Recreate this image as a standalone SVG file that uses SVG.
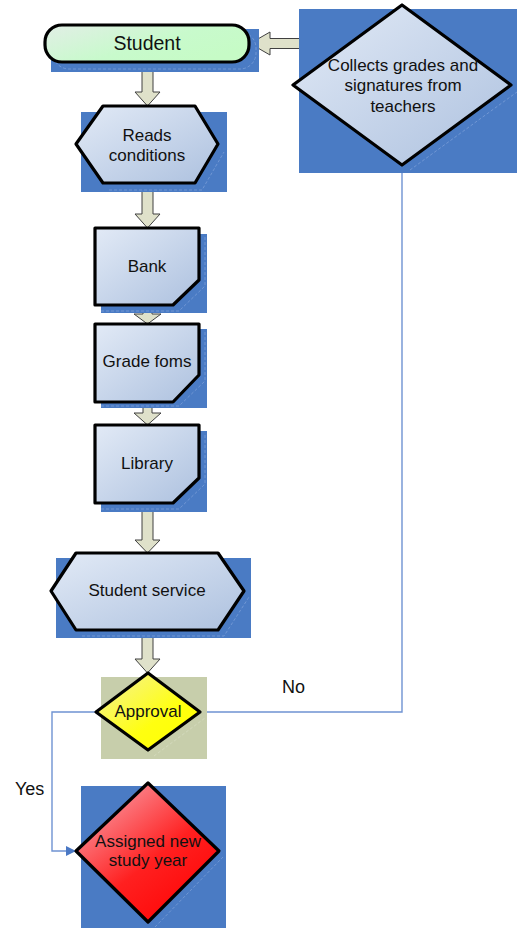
<svg xmlns="http://www.w3.org/2000/svg" width="517" height="929" viewBox="0 0 517 929">
  <defs>
    <linearGradient id="gBlue" x1="0" y1="0" x2="1" y2="1">
      <stop offset="0" stop-color="#e2eaf6"/>
      <stop offset="1" stop-color="#adc1df"/>
    </linearGradient>
    <linearGradient id="gGreen" x1="0" y1="0" x2="1" y2="0.6">
      <stop offset="0" stop-color="#e2eee6"/>
      <stop offset="0.6" stop-color="#c8facc"/>
      <stop offset="1" stop-color="#c6fbc6"/>
    </linearGradient>
    <linearGradient id="gYellow" x1="0" y1="0" x2="1" y2="1">
      <stop offset="0" stop-color="#f4f0a0"/>
      <stop offset="0.6" stop-color="#ffff10"/>
      <stop offset="1" stop-color="#ffff00"/>
    </linearGradient>
    <linearGradient id="gRed" x1="0.1" y1="0" x2="0.9" y2="1">
      <stop offset="0" stop-color="#f8aab4"/>
      <stop offset="0.55" stop-color="#ff2020"/>
      <stop offset="1" stop-color="#ff0000"/>
    </linearGradient>
    <marker id="tri" viewBox="0 0 10 10" refX="10" refY="5" markerWidth="10" markerHeight="10" markerUnits="userSpaceOnUse" orient="auto">
      <path d="M0,0 L10,5 L0,10 z" fill="#4a78c4"/>
    </marker>
  </defs>
  <style>
    .back { fill: #4a7bc4; }
    .ghost { fill: none; stroke: #a9c1ea; stroke-width: 0.8; stroke-dasharray: 3 2; opacity: 0.5; }
    .shape { stroke: #000; stroke-width: 3.2; stroke-linejoin: round; }
    .blk { fill: #dfe1ca; stroke: #404040; stroke-width: 1; }
    .lbl { font-family: "Liberation Sans", Arial, sans-serif; font-size: 17px; fill: #111; text-anchor: middle; }
    .edge { font-family: "Liberation Sans", Arial, sans-serif; font-size: 18px; fill: #111; }
    .link { fill: none; stroke: #6f93d2; stroke-width: 1.4; }
  </style>

  <!-- connectors -->
  <g id="connectors">
    <!-- flow arrows down the column -->
    <path class="blk" d="M142,63 H153 V92 H160 L147.5,106 L135,92 H142 Z"/>
    <path class="blk" d="M142,183 H153 V214 H160 L147.5,228 L135,214 H142 Z"/>
    <path class="blk" d="M143,305 H152 V314 H161 L147.5,324 L134,314 H143 Z"/>
    <path class="blk" d="M143,402 H152 V413 H161 L147.5,425 L134,413 H143 Z"/>
    <path class="blk" d="M142,503 H153 V540 H160 L147.5,553 L135,540 H142 Z"/>
    <path class="blk" d="M142,630 H153 V659 H160 L147.5,673 L135,659 H142 Z"/>
    <!-- return arrow into Student -->
    <path class="blk" d="M300,38.5 H270 V32 L250,43.5 L270,55 V48.5 H300 Z"/>
    <!-- No branch -->
    <path class="link" d="M200,712 H402 V167"/>
    <!-- Yes branch -->
    <path class="link" d="M96,712 H52 V851 H76" marker-end="url(#tri)"/>
    <text class="edge" x="282" y="693">No</text>
    <text class="edge" x="15" y="795">Yes</text>
  </g>

  <g id="student">
    <rect class="back" x="51" y="29" width="208" height="43"/>
    <rect class="ghost" x="53" y="32" width="203" height="37" rx="16"/>
    <rect class="shape" x="45" y="25" width="204" height="37" rx="17" fill="url(#gGreen)"/>
    <text class="lbl" x="147" y="50" style="font-size:19.5px">Student</text>
  </g>

  <g id="collects">
    <rect class="back" x="299" y="9" width="218" height="164"/>
    <path class="ghost" d="M410,170 L517,92"/>
    <path class="shape" d="M402,5 L511,85 L402,165 L293,85 Z" fill="url(#gBlue)"/>
    <text class="lbl" x="403" y="71">Collects grades and</text>
    <text class="lbl" x="403" y="91">signatures from</text>
    <text class="lbl" x="403" y="112">teachers</text>
  </g>

  <g id="reads">
    <rect class="back" x="81" y="112" width="146" height="80"/>
    <path class="ghost" d="M109,190 H202 L224,152"/>
    <path class="shape" d="M76,144 L103,106 H195 L218,144 L195,183 H103 Z" fill="url(#gBlue)"/>
    <text class="lbl" x="147" y="141">Reads</text>
    <text class="lbl" x="147" y="161">conditions</text>
  </g>

  <g id="bank">
    <rect class="back" x="101" y="234" width="106" height="79"/>
    <path class="ghost" d="M101,311 H179 L205,286 V236"/>
    <path class="shape" d="M95,228 H199 V280 L173,305 H95 Z" fill="url(#gBlue)"/>
    <text class="lbl" x="147" y="272">Bank</text>
  </g>

  <g id="gradeforms">
    <rect class="back" x="101" y="329" width="106" height="79"/>
    <path class="ghost" d="M101,406 H179 L205,381 V331"/>
    <path class="shape" d="M95,324 H199 V375 L173,402 H95 Z" fill="url(#gBlue)"/>
    <text class="lbl" x="147" y="367">Grade foms</text>
  </g>

  <g id="library">
    <rect class="back" x="101" y="431" width="106" height="81"/>
    <path class="ghost" d="M101,509 H179 L205,484 V433"/>
    <path class="shape" d="M95,425 H199 V478 L173,503 H95 Z" fill="url(#gBlue)"/>
    <text class="lbl" x="147" y="469">Library</text>
  </g>

  <g id="studentservice">
    <rect class="back" x="56" y="558" width="195" height="80"/>
    <path class="ghost" d="M82,636 H224 L249,597"/>
    <path class="shape" d="M51,591 L76,553 H218 L244,591 L218,630 H76 Z" fill="url(#gBlue)"/>
    <text class="lbl" x="147" y="596">Student service</text>
  </g>

  <g id="approval">
    <rect x="101" y="677" width="106" height="82" fill="#c7ceab"/>
    <path class="ghost" d="M154,756 L205,718" style="stroke:#e6ead6"/>
    <path class="shape" d="M148,673 L200,712 L148,750 L96,712 Z" fill="url(#gYellow)"/>
    <text class="lbl" x="148" y="717">Approval</text>
  </g>

  <g id="assigned">
    <rect class="back" x="81" y="786" width="145" height="142"/>
    <path class="ghost" d="M155,927 L223,857"/>
    <path class="shape" d="M148,783 L219,851 L148,922 L76,851 Z" fill="url(#gRed)"/>
    <text class="lbl" x="148" y="847">Assigned new</text>
    <text class="lbl" x="148" y="866">study year</text>
  </g>
</svg>
